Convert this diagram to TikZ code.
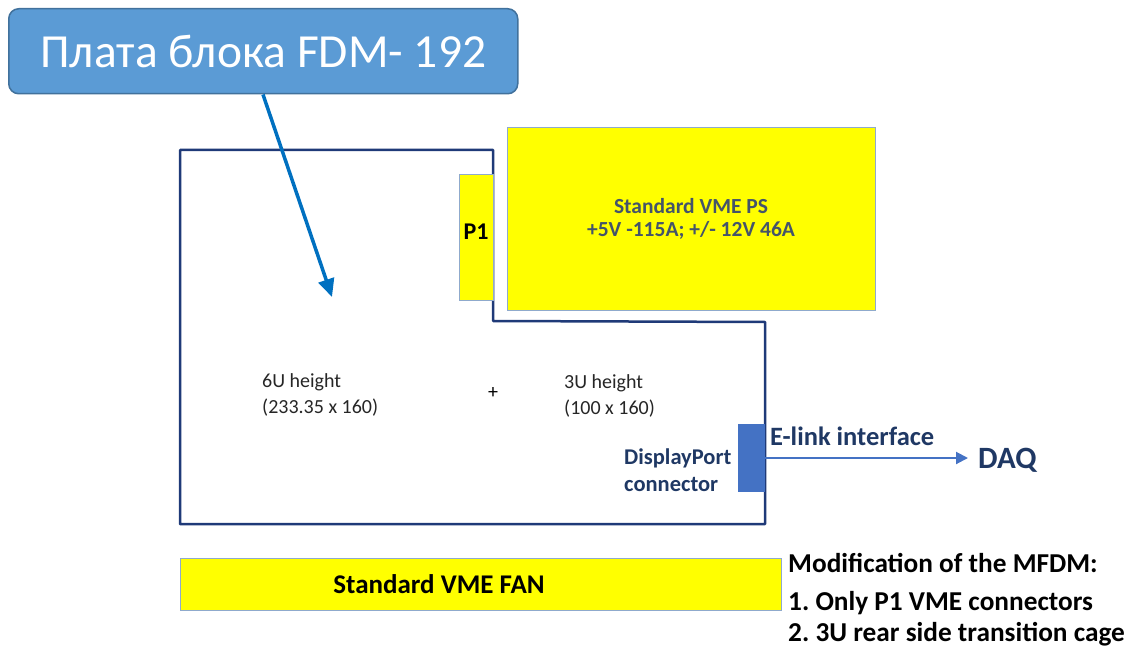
\documentclass[tikz,border=0pt]{standalone}
\usepackage{fontspec}
\setmainfont{Carlito}
\frenchspacing
\usetikzlibrary{arrows.meta}
\definecolor{titlefill}{HTML}{5B9BD5}
\definecolor{titleedge}{HTML}{41719C}
\definecolor{arrowblue}{HTML}{0070C0}
\definecolor{boardnavy}{HTML}{1F3A78}
\definecolor{dpblue}{HTML}{4472C4}
\definecolor{navytext}{HTML}{1F3864}
\definecolor{pstext}{HTML}{44546A}
\definecolor{boxedge}{HTML}{8FAACC}
\definecolor{yel}{HTML}{FFFF00}
\tikzset{
  yelbox/.style={draw=boxedge, line width=0.8pt, fill=yel, inner sep=0pt},
  navylbl/.style={font=\bfseries\fontsize{22.5}{27}\selectfont, text=navytext, inner sep=0pt},
  dimlbl/.style={font=\fontsize{20}{26}\selectfont, text=black!85, align=left, anchor=west, inner sep=0pt},
  modlbl/.style={font=\bfseries\fontsize{27.3}{31}\selectfont, anchor=west, inner sep=0pt},
}
\begin{document}
\begin{tikzpicture}[x=1pt,y=-1pt]
\useasboundingbox (0,0) rectangle (1132,647);
% title
\node[draw=titleedge, line width=1.5pt, fill=titlefill, rounded corners=10pt,
  minimum width=509pt, minimum height=85pt, anchor=north west, text=white,
  font=\fontsize{47.5}{56}\selectfont] (title) at (8,8) {Плата блока FDM- 192};
% board outline
\draw[boardnavy, line width=2.5pt, line join=round]
  (180,150) coordinate (b1) -- (493,150) -- (493,321) -- (765,322) -- (765,524) -- (180,524) -- cycle;
% P1
\node[yelbox, minimum width=34pt, minimum height=126pt, anchor=north west] (p1) at (459,174) {};
\node[font=\bfseries\fontsize{24}{28}\selectfont, inner sep=0pt] (p1lbl) at (476,232) {P1};
% PS
\node[yelbox, minimum width=368pt, minimum height=183pt, anchor=north west] (ps) at (507,127) {};
\node[font=\bfseries\fontsize{21.5}{23}\selectfont, text=pstext, align=center] (pslbl) at (691,219)
  {Standard VME PS\\+5V -115A; +/- 12V 46A};
% dims
\node[dimlbl] (six) at (262,395) {6U height\\(233.35 x 160)};
\node[font=\fontsize{20}{22}\selectfont, inner sep=0pt] (plus) at (493,393) {+};
\node[dimlbl] (three) at (564,396) {3U height\\(100 x 160)};
% DisplayPort
\node[draw=dpblue, fill=dpblue, minimum width=26pt, minimum height=67pt, anchor=north west, inner sep=0pt] (dp) at (738,424) {};
\node[navylbl, align=left, anchor=west] (dplbl) at (624,470) {DisplayPort\\[0pt]connector};
\node[navylbl, font=\bfseries\fontsize{26.5}{30}\selectfont, anchor=west] (elink) at (770,436) {E-link interface};
\coordinate (daqpt) at (968,458);
\draw[dpblue, line width=2pt, -{Triangle[length=12pt,width=12pt]}] (dp.east |- daqpt) -- (daqpt);
\node[font=\bfseries\fontsize{31}{34}\selectfont, text=navytext, anchor=west, inner sep=0pt] (daq) at (978,460) {DAQ};
% arrow from title
\coordinate (tip) at (332,297);
\draw[arrowblue, line width=3.5pt, -{Triangle[length=18pt,width=16pt]}] (title.south -| 263,0) -- (tip);
% FAN
\node[yelbox, minimum width=601pt, minimum height=52pt, anchor=north west] (fan) at (180,558) {};
\node[font=\bfseries\fontsize{27}{30}\selectfont, inner sep=0pt] (fanlbl) at (439,584) {Standard VME FAN};
% modification
\node[modlbl] (mod0) at (788,563) {Modification of the MFDM:};
\node[modlbl] (mod1) at (788,603) {1. Only P1 VME connectors};
\node[modlbl] (mod2) at (788,634) {2. 3U rear side transition cage};
\end{tikzpicture}
\end{document}
